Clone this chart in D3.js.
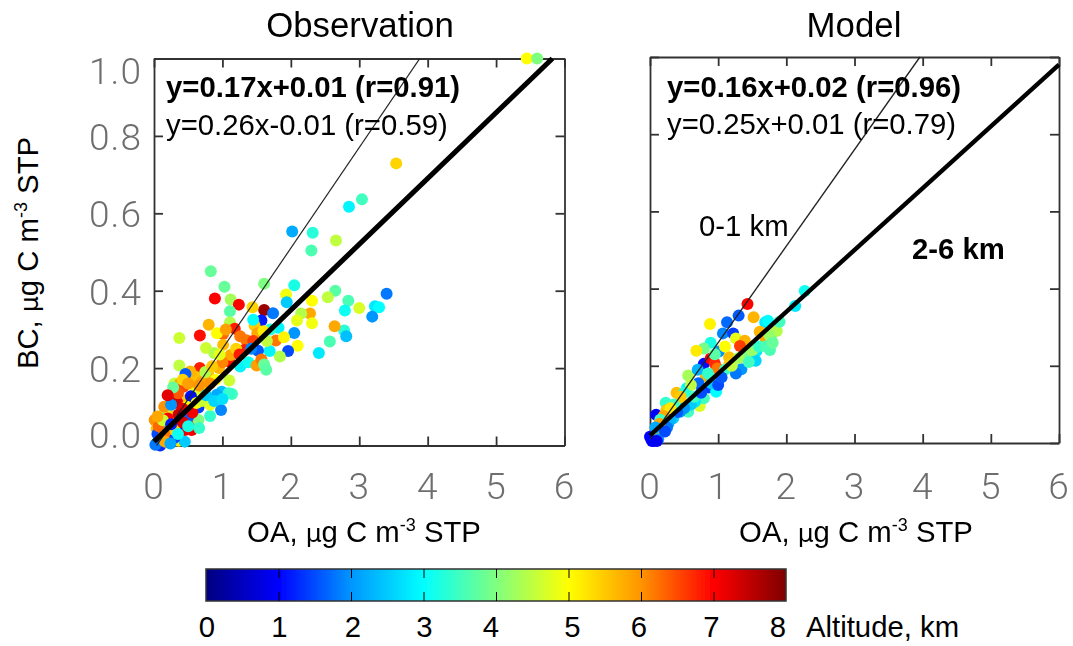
<!DOCTYPE html>
<html>
<head>
<meta charset="utf-8">
<script src="https://cdn.jsdelivr.net/npm/d3@7"></script>
<style>
  html, body { margin: 0; background: #fff; }
  svg { display: block; }
  text { font-family: "Liberation Sans", Arial, sans-serif; fill: #000; }
  text.tick-label { font-family: Roboto, "Liberation Sans", sans-serif; font-weight: 300; font-size: 37px; letter-spacing: 1px; fill: #6e6e6e; }
</style>
</head>
<body>
<div id="chart"></div>
<script>
// [OA, BC, altitude km]
const obsPoints = [
  [5.45,1.0,5.0],[5.6,1.0,4.0],[3.54,.729,5.4],[2.85,.617,2.9],[3.04,.636,3.5],[2.02,.553,2.2],[2.32,.55,3.3],[2.66,.53,4.5],
  [.83,.45,3.8],[1.03,.41,3.8],[.89,.38,7],[1.12,.377,4.3],[1.24,.364,7],[1.61,.418,4],[2.05,.414,3.2],[2.30,.504,3.6],
  [1.93,.39,4.9],[1.94,.37,2.5],[2.31,.374,5],[2.65,.40,3.7],[2.54,.383,4.5],[2.84,.374,3.6],[3.40,.392,1.8],[3.0,.355,4.7],
  [3.23,.36,2.8],[3.29,.357,3.0],[3.19,.333,2],[2.79,.349,3.1],[2.78,.297,3.3],[2.81,.282,2.4],[2.57,.269,3.6],[2.64,.308,5.8],
  [2.41,.239,2.8],[2.28,.341,5.8],[2.15,.341,4.4],[2.09,.323,4.8],[2.31,.316,4.9],[2.05,.291,2],[2.10,.258,5],[1.96,.244,1.5],
  [1.84,.23,4.4],[1.78,.271,6.2],[1.69,.244,2.9],[1.52,.245,1.6],[1.82,.304,2.9],[1.61,.35,7.8],[1.74,.342,1.8],[1.57,.323,1.2],
  [1.44,.357,5.4],[1.11,.347,3.7],[1.11,.318,4.4],[1.47,.31,5.5],[1.45,.325,3],[1.18,.302,6.8],[.80,.312,5.7],[.67,.284,6.9],
  [.37,.278,4.6],[1.01,.288,6.3],[.92,.29,5],[1.26,.282,6.2],[1.35,.272,6.2],[1.51,.29,5.8],[.76,.252,4.6],[.88,.239,4.4],
  [1.01,.26,5.6],[1.32,.247,6.8],[1.10,.217,6.9],[1.12,.234,5.8],[.37,.207,4.5],[.67,.2,6.8],[1.26,.204,2.9],[1.38,.215,3.1],
  [1.50,.207,5.9],[1.57,.222,6.2],[1.61,.209,3.8],[1.64,.196,3.7],[1.10,.168,4.6],[1.14,.133,3.5],[.79,.185,5.6],[.9,.17,5],
  [.6,.178,5.6],[.7,.165,5.8],[.53,.191,5.7],[.3,.16,4.5],[.38,.16,5.8],[.6,.14,4.8],[.72,.15,5.3],[.82,.16,6],[.5,.12,5.5],
  [.46,.185,1.6],[.43,.152,6.5],[.23,.127,1],[.34,.112,7],[.31,.11,7.4],[.16,.088,4.7],[.54,.127,1.1],[.65,.098,1.4],
  [.98,.092,1.9],[.82,.076,3.4],[.82,.105,4.8],[.99,.139,2.4],[1.09,.135,3.4],[.92,.131,2.2],[.6,.066,6.8],[.45,.04,7.2],
  [.55,.04,7.1],[.33,.049,1.1],[.19,.019,6.8],[.36,.012,5.2],[.01,.066,6],[.04,.044,5.6],[.21,.044,5.2],[.65,.066,4],
  [.28,.075,5.5],[.4,.083,7],[.48,.1,5],[.17,.06,2.5],[.12,.03,5],[.25,.03,6.5],[.09,.015,3],[.45,.01,2.5],[.05,.03,1.5],
  [.15,.1,6],[.1,.07,3.5],[.3,.02,1.5],[.04,.006,2],[.09,0,1.3],[.02,.002,1.8],
  [.42,.17,5.4],[.5,.16,5.9],[.66,.155,6],[.75,.19,4.4],[.95,.2,5.7],[1.0,.215,6.1],[.85,.205,5.5],[.96,.235,4.8],
  [.35,.135,6.4],[.28,.15,3.8],[.25,.105,2],[.2,.13,7.2],[.42,.095,7.2],[.36,.08,7.4],[.5,.075,1.6],[.56,.085,7.1],
  [.62,.11,5],[.7,.115,4.6],[.76,.13,2.5],[.88,.115,2.6],[1.0,.12,2.7],[.3,.04,5.4],[.42,.06,7.3],[.5,.05,3.2],
  [.66,.045,3.4],[.15,.03,6.2],[.2,.07,7],[.07,.05,6.3],[.13,.065,4.6],[.25,.055,1.2],[.35,.03,3.1],[.16,.01,5.8],
  [.24,.005,2.2],[.05,.075,5.8],[1.2,.25,5.4],[1.25,.235,6.8],[1.45,.27,6.6],[1.65,.27,4.5],[1.7,.3,3.3],[1.9,.28,5.1],
  [1.42,.25,1.9],[1.6,.295,5.2],[1.05,.3,5.9]
];
const modPoints = [
  [2.27,.394,3.1],[2.13,.355,2.8],[1.43,.36,7],[1.30,.33,1.6],[1.52,.326,5.7],[.88,.308,5.1],[1.13,.313,1.7],[1.07,.284,1.9],
  [1.22,.284,1.4],[1.69,.313,2.8],[1.73,.317,3],[1.61,.288,5.7],[1.86,.29,4.4],[1.90,.314,3.5],[1.70,.269,5.8],[1.78,.267,3.8],
  [1.76,.241,3.6],[1.26,.271,4.8],[1.39,.265,5.7],[1.32,.251,6.6],[.89,.26,3.2],[.79,.245,3.9],[.68,.239,5.2],[1.01,.237,2],
  [.79,.205,1.1],[.89,.219,7],[.95,.206,6.7],[.99,.193,6.2],[1.16,.222,5.6],[1.42,.222,4],[1.56,.238,2.8],[1.55,.213,2.6],
  [1.34,.191,2],[1.26,.18,1.8],[1.16,.202,5.5],[.56,.175,4.3],[.82,.172,5.7],[1.03,.17,4.6],[.71,.155,1.7],[.86,.144,1.4],
  [.97,.133,3],[.39,.13,5.6],[.54,.142,2.9],[.23,.104,3.4],[.73,.096,4.7],[.79,.116,3.5],[.56,.081,3.5],[.46,.107,5],
  [.09,.073,1],[.24,.085,5.5],[.34,.064,2.6],[.66,.107,2.8],[.44,.081,2],[.27,.051,2],[.2,.042,6],[.12,.027,7],[.17,.03,7],
  [.15,.045,5.6],[.02,.01,.8],[.07,.016,1],[0,.016,1],[.05,.005,.8],
  [.6,.1,2.5],[.5,.09,2],[.4,.08,1.6],[.3,.06,2.3],[.25,.04,1.8],[.65,.12,3.5],[.75,.13,1.5],[.9,.155,2.5],[1.0,.15,1.5],
  [1.1,.19,3.5],[1.2,.2,4.5],[1.3,.22,4.3],[1.45,.21,3.5],[1.5,.24,4.2],[1.6,.25,3.4],[1.7,.25,3.6],[1.75,.28,4.2],[1.8,.26,3.8],
  [.6,.15,4.5],[.5,.13,3.3],[.45,.12,5.5],[.35,.1,3.5],[.3,.09,5.2],[.2,.07,5.8],[.15,.06,3.5],[.7,.19,2.3],[.1,.03,5.5],[.14,.05,5.8],
  [.12,.01,2],[.08,.04,2.2],[.22,.03,1.5],[.85,.18,3.4],[.95,.23,3.7],[1.1,.25,5],[1.05,.17,1.6],[.03,.005,1],[.1,.005,.9]
];

const altTicks = [0, 1, 2, 3, 4, 5, 6, 7, 8];
const jetColors = ["#00007f", "#0000ff", "#0096ff", "#00ffff", "#7fff7f", "#ffff00", "#ff9400", "#ff0000", "#7f0000"];
const oaTicks = [0, 1, 2, 3, 4, 5, 6];
const bcTicks = [0, 0.2, 0.4, 0.6, 0.8, 1.0];

const fits = {
  obs: { bulk: [0.17, 0.01], low: [0.26, -0.01], bulkText: "y=0.17x+0.01 (r=0.91)", lowText: "y=0.26x-0.01 (r=0.59)" },
  mod: { bulk: [0.16, 0.02], low: [0.25, 0.01], bulkText: "y=0.16x+0.02 (r=0.96)", lowText: "y=0.25x+0.01 (r=0.79)" }
};

const TEXT_SIZE = 29.3;

const svg = d3.select("#chart").append("svg").attr("width", 1073).attr("height", 646);

const defs = svg.append("defs");
defs.append("filter").attr("id", "soft").attr("filterUnits", "userSpaceOnUse")
  .attr("x", 0).attr("y", 0).attr("width", 1073).attr("height", 646)
  .append("feGaussianBlur").attr("stdDeviation", 0.7);

const altColor = d3.scaleLinear().domain(altTicks).range(jetColors);

function massLabel(sel, name) {
  sel.append("tspan").text(name + ", ");
  sel.append("tspan").style("font-family", "'DejaVu Sans'").attr("font-size", 25).text("\u00b5");
  sel.append("tspan").text("g C m");
  sel.append("tspan").attr("font-size", 18).attr("dy", -11).text("-3");
  sel.append("tspan").attr("dy", 11).text(" STP");
}

function drawPanel(opt) {
  const x = d3.scaleLinear().domain([0, 6]).range([opt.left, opt.right]);
  const y = d3.scaleLinear().domain([0, 1]).range([opt.bottom, opt.top]);
  const g = svg.append("g").attr("filter", "url(#soft)");

  // frame and ticks on all four sides
  const axes = [
    d3.axisBottom(x).tickValues(oaTicks).tickSize(-9).tickFormat(""),
    d3.axisTop(x).tickValues(oaTicks).tickSize(-9).tickFormat(""),
    d3.axisLeft(y).tickValues(bcTicks).tickSize(-9).tickFormat(""),
    d3.axisRight(y).tickValues(bcTicks).tickSize(-9).tickFormat("")
  ];
  const shift = [[0, opt.bottom], [0, opt.top], [opt.left, 0], [opt.right, 0]];
  axes.forEach((a, i) => {
    const ag = g.append("g").attr("transform", `translate(${shift[i]})`).call(a.tickSizeOuter(0));
    ag.selectAll("path, line").attr("stroke", "#333").attr("stroke-width", 1.8);
  });

  g.append("g").selectAll("circle")
    .data(opt.points)
    .enter()
    .append("circle")
    .attr("cx", d => x(d[0]))
    .attr("cy", d => y(d[1]))
    .attr("r", 6)
    .attr("fill", d => altColor(d[2]));

  // fit lines stop at the frame
  const lineEnd = f => Math.min(6, (1 - f[1]) / f[0]);
  const lineStart = f => Math.max(0, -f[1] / f[0]);
  const fitLine = (f, w, color) => g.append("line")
    .attr("x1", x(lineStart(f))).attr("y1", y(f[0] * lineStart(f) + f[1]))
    .attr("x2", x(lineEnd(f))).attr("y2", y(f[0] * lineEnd(f) + f[1]))
    .attr("stroke", color).attr("stroke-width", w);
  fitLine(opt.fit.low, 1.3, "#222");
  fitLine(opt.fit.bulk, opt.bulkWidth, "#000");

  // gray tick labels, the end ones are pulled inward like the original
  const labels = svg.append("g").attr("filter", "url(#soft)");
  labels.selectAll("text").data(oaTicks).enter().append("text")
    .attr("class", "tick-label")
    .attr("x", d => x(d)).attr("y", 499)
    .attr("text-anchor", "middle").text(d => d);

  if (opt.yLabels) {
    labels.append("g").selectAll("text").data(bcTicks).enter().append("text")
      .attr("class", "tick-label")
      .attr("x", opt.left - 12)
      .attr("y", d => y(d) + 14 + (d === 1 ? 11 : d === 0 ? -12 : 0))
      .attr("text-anchor", "end").text(d => d.toFixed(1));
  }

  svg.append("text").attr("x", opt.titleX).attr("y", 37).attr("text-anchor", "middle")
    .attr("font-size", 34.8).text(opt.title);

  svg.append("text").attr("x", opt.left + opt.eqDx).attr("y", opt.eqY[0]).attr("font-size", TEXT_SIZE)
    .attr("font-weight", "bold").text(opt.fit.bulkText);
  svg.append("text").attr("x", opt.left + opt.eqDx).attr("y", opt.eqY[1]).attr("font-size", TEXT_SIZE)
    .text(opt.fit.lowText);

  const xt = svg.append("text").attr("x", opt.xLabelX).attr("y", 542).attr("text-anchor", "middle").attr("font-size", TEXT_SIZE);
  massLabel(xt, "OA");
}

drawPanel({
  points: obsPoints, fit: fits.obs, title: "Observation", titleX: 360, xLabelX: 364,
  left: 154, right: 564.5, top: 58.5, bottom: 445.5, bulkWidth: 5.2, eqDx: 12, eqY: [97, 135], yLabels: true
});
drawPanel({
  points: modPoints, fit: fits.mod, title: "Model", titleX: 854, xLabelX: 856,
  left: 650, right: 1059, top: 57, bottom: 443, bulkWidth: 4.4, eqDx: 17, eqY: [97, 134], yLabels: false
});

const yLab = svg.append("text").attr("transform", "translate(38,253) rotate(-90)")
  .attr("text-anchor", "middle").attr("font-size", TEXT_SIZE);
massLabel(yLab, "BC");

svg.append("text").attr("x", 699).attr("y", 236).attr("font-size", TEXT_SIZE).text("0-1 km");
svg.append("text").attr("x", 912).attr("y", 259).attr("font-size", TEXT_SIZE).attr("font-weight", "bold").text("2-6 km");

// colorbar
const cbX = d3.scaleLinear().domain([0, 8]).range([206, 786]);
const cbTop = 569, cbBottom = 601;
const grad = defs.append("linearGradient").attr("id", "jet");
grad.selectAll("stop").data(altTicks).enter().append("stop")
  .attr("offset", d => d / 8).attr("stop-color", d => altColor(d));

const cb = svg.append("g").attr("filter", "url(#soft)");
cb.append("rect")
  .attr("x", cbX(0)).attr("y", cbTop)
  .attr("width", cbX(8) - cbX(0)).attr("height", cbBottom - cbTop)
  .attr("fill", "url(#jet)").attr("stroke", "#333").attr("stroke-width", 1.5);
const inner = altTicks.slice(1, -1);
cb.append("g").attr("transform", `translate(0,${cbTop})`)
  .call(d3.axisBottom(cbX).tickValues(inner).tickSize(9).tickFormat("").tickSizeOuter(0))
  .call(a => a.select("path").remove());
cb.append("g").attr("transform", `translate(0,${cbBottom})`)
  .call(d3.axisTop(cbX).tickValues(inner).tickSize(9).tickFormat("").tickSizeOuter(0))
  .call(a => a.select("path").remove());

// labels sit a little off their ticks in the original
const cbNudge = [1, 1, 2, 1, -5, 4, -2, -2, -8];
svg.append("g").selectAll("text").data(altTicks).enter().append("text")
  .attr("x", d => cbX(d) + cbNudge[d]).attr("y", 637)
  .attr("text-anchor", "middle").attr("font-size", TEXT_SIZE).text(d => d);
svg.append("text").attr("x", 806).attr("y", 637).attr("font-size", TEXT_SIZE).text("Altitude, km");
</script>
</body>
</html>
